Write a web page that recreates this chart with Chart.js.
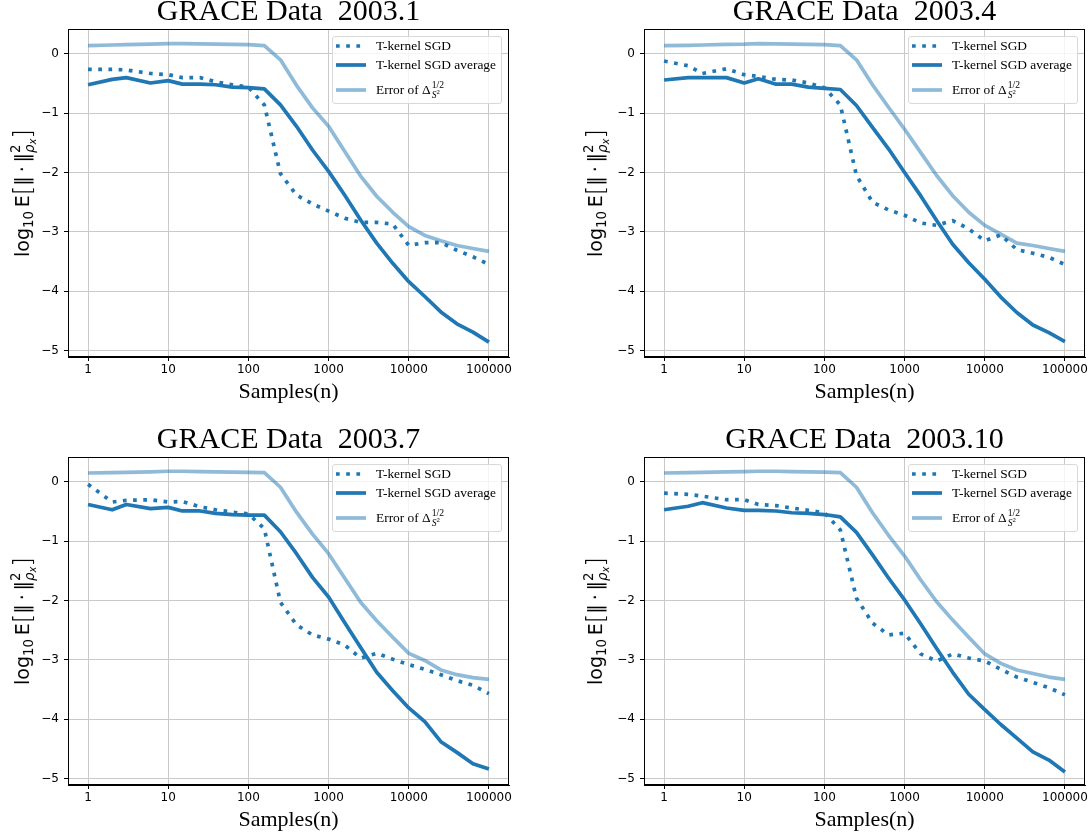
<!DOCTYPE html>
<html>
<head>
<meta charset="utf-8">
<script src="https://cdn.jsdelivr.net/npm/chart.js@4.4.1/dist/chart.umd.min.js"></script>
<style>
html, body { margin: 0; padding: 0; background: #fff; }
body { width: 1091px; height: 835px; position: relative; overflow: hidden; }
.panel { position: absolute; }
.panel canvas { position: absolute; left: 0; top: 0; }
.ylab {
    position: absolute; white-space: nowrap; color: #000;
    font-family: 'DejaVu Sans', sans-serif; font-size: 19px; line-height: 1;
    transform: translate(-50%, -50%) rotate(-90deg);
}
.ylab sub { font-size: 0.7em; vertical-align: -0.25em; }
.ylab .br { font-size: 1.3em; font-weight: 300; vertical-align: -0.08em; }
.ylab .ss { display: inline-block; vertical-align: middle; font-size: 0.7em; line-height: 1.05; text-align: left; }
.ylab .ss span { display: block; }
.legend {
    position: absolute; width: 168px; height: 66px;
    border: 1px solid #d9d9d9; border-radius: 3px; background: rgba(255,255,255,0.8);
    font-family: 'Liberation Serif', serif; font-size: 13.4px; color: #000;
}
.legend .row { position: absolute; left: 3px; height: 16px; display: flex; align-items: center; white-space: nowrap; }
.legend svg { display: block; margin-right: 10px; }
.legend .ss { display: inline-block; vertical-align: middle; font-size: 0.72em; line-height: 1; text-align: left; margin-left: 1px; }
.legend .ss span { display: block; }
</style>
</head>
<body>
<script>
// sample sizes n
const samples = [1, 2, 3, 6, 10, 15, 25, 39, 63, 100, 158, 251, 398, 630, 1000,
    1584, 2511, 3981, 6309, 10000, 15848, 25118, 39810, 63095, 100000];
const xTicks = [1, 10, 100, 1000, 10000, 100000];
const yTicks = [0, -1, -2, -3, -4, -5];

const titles = ['GRACE Data  2003.1', 'GRACE Data  2003.4', 'GRACE Data  2003.7', 'GRACE Data  2003.10'];

// 2003.1
const sgd1 = [-0.26, -0.26, -0.27, -0.33, -0.35, -0.40, -0.40, -0.47, -0.52, -0.56, -0.86, -2.02, -2.38,
    -2.53, -2.65, -2.77, -2.84, -2.84, -2.87, -3.23, -3.18, -3.18, -3.31, -3.42, -3.55];
const avg1 = [-0.52, -0.43, -0.40, -0.49, -0.45, -0.51, -0.51, -0.52, -0.56, -0.57, -0.59, -0.86, -1.22,
    -1.62, -1.98, -2.38, -2.80, -3.19, -3.53, -3.84, -4.09, -4.35, -4.55, -4.69, -4.86];
const err1 = [0.14, 0.15, 0.155, 0.165, 0.175, 0.175, 0.17, 0.165, 0.16, 0.155, 0.14, -0.10, -0.53,
    -0.91, -1.22, -1.64, -2.06, -2.40, -2.67, -2.91, -3.06, -3.15, -3.23, -3.28, -3.33];

// 2003.4
const sgd4 = [-0.12, -0.20, -0.33, -0.25, -0.35, -0.38, -0.43, -0.44, -0.49, -0.57, -0.86, -2.05, -2.50,
    -2.63, -2.72, -2.85, -2.89, -2.81, -2.95, -3.15, -3.05, -3.30, -3.36, -3.43, -3.55];
const avg4 = [-0.44, -0.40, -0.40, -0.40, -0.49, -0.42, -0.51, -0.51, -0.56, -0.58, -0.60, -0.87, -1.24,
    -1.60, -2.00, -2.39, -2.81, -3.21, -3.52, -3.80, -4.10, -4.36, -4.57, -4.70, -4.85];
const err4 = [0.14, 0.145, 0.15, 0.16, 0.165, 0.175, 0.17, 0.165, 0.16, 0.155, 0.14, -0.10, -0.52,
    -0.90, -1.27, -1.66, -2.05, -2.39, -2.67, -2.89, -3.04, -3.19, -3.23, -3.28, -3.33];

// 2003.7
const sgd7 = [-0.04, -0.34, -0.31, -0.30, -0.34, -0.33, -0.42, -0.47, -0.51, -0.54, -0.79, -2.03, -2.41,
    -2.58, -2.65, -2.75, -2.97, -2.89, -2.99, -3.08, -3.16, -3.25, -3.35, -3.43, -3.57];
const avg7 = [-0.38, -0.47, -0.38, -0.45, -0.43, -0.49, -0.49, -0.53, -0.55, -0.56, -0.56, -0.84, -1.21,
    -1.61, -1.94, -2.37, -2.79, -3.21, -3.52, -3.81, -4.04, -4.38, -4.56, -4.75, -4.84];
const err7 = [0.15, 0.155, 0.16, 0.17, 0.18, 0.18, 0.175, 0.17, 0.165, 0.16, 0.155, -0.09, -0.51,
    -0.88, -1.21, -1.62, -2.03, -2.34, -2.62, -2.89, -3.01, -3.17, -3.25, -3.30, -3.33];

// 2003.10
const sgd10 = [-0.19, -0.21, -0.24, -0.30, -0.30, -0.38, -0.40, -0.44, -0.48, -0.52, -0.81, -1.96, -2.38,
    -2.58, -2.55, -2.90, -3.02, -2.90, -2.97, -3.02, -3.16, -3.29, -3.38, -3.47, -3.59];
const avg10 = [-0.47, -0.41, -0.35, -0.44, -0.48, -0.48, -0.49, -0.52, -0.53, -0.55, -0.59, -0.85, -1.23,
    -1.62, -1.99, -2.39, -2.81, -3.21, -3.58, -3.84, -4.09, -4.32, -4.55, -4.69, -4.89];
const err10 = [0.15, 0.155, 0.16, 0.17, 0.175, 0.18, 0.18, 0.175, 0.17, 0.165, 0.155, -0.09, -0.52,
    -0.90, -1.25, -1.65, -2.02, -2.33, -2.62, -2.90, -3.06, -3.17, -3.23, -3.29, -3.33];

const BLUE = '#1f77b4';
const LIGHT = 'rgba(31,119,180,0.5)';
const GRID = '#c9c9c9';

// panel boxes on the page: left, top, width, height, y axis width, right pad, ylabel offset
const panels = [
    { left: 0,   top: 0,   w: 545, h: 407, axisW: 68, padR: 36, labOff: 44.5, sgd: sgd1,  avg: avg1,  err: err1 },
    { left: 545, top: 0,   w: 546, h: 407, axisW: 99, padR: 6,  labOff: 47.5, sgd: sgd4,  avg: avg4,  err: err4 },
    { left: 0,   top: 428, w: 545, h: 407, axisW: 68, padR: 36, labOff: 44.5, sgd: sgd7,  avg: avg7,  err: err7 },
    { left: 545, top: 428, w: 546, h: 407, axisW: 99, padR: 6,  labOff: 47.5, sgd: sgd10, avg: avg10, err: err10 }
];

const framePlugin = {
    id: 'frame',
    afterDraw(chart) {
        const { ctx, chartArea: a } = chart;
        ctx.save();
        ctx.strokeStyle = '#000';
        ctx.lineWidth = 1;
        ctx.strokeRect(Math.round(a.left) + 0.5, Math.round(a.top) + 0.5,
            Math.round(a.right - a.left) - 1, Math.round(a.bottom - a.top) - 1);
        ctx.restore();
    }
};

function pts(vals) {
    return samples.map((n, i) => ({ x: n, y: vals[i] }));
}

function fmtY(v) {
    return v < 0 ? '\u2212' + Math.abs(v) : String(v);
}

function legendHtml() {
    const dot = '<svg width="30" height="6"><line x1="0" y1="3" x2="30" y2="3" stroke="' + BLUE +
        '" stroke-width="3.7" stroke-dasharray="3.7 6.5"/></svg>';
    const solid = '<svg width="30" height="6"><line x1="0" y1="3" x2="30" y2="3" stroke="' + BLUE +
        '" stroke-width="3.7"/></svg>';
    const light = '<svg width="30" height="6"><line x1="0" y1="3" x2="30" y2="3" stroke="' + LIGHT +
        '" stroke-width="3.7"/></svg>';
    return '<div class="row" style="top:1px">' + dot + 'T-kernel SGD</div>' +
        '<div class="row" style="top:20px">' + solid + 'T-kernel SGD average</div>' +
        '<div class="row" style="top:45px">' + light + 'Error of&nbsp;Δ<span class="ss"><span>1/2</span><span><i>S</i><sup style="font-size:0.7em">2</sup></span></span></div>';
}

function ylabHtml() {
    return 'log<sub>10</sub>&thinsp;E<span class="br">[</span>‖&thinsp;·&thinsp;‖' +
        '<span class="ss"><span>2</span><span><i>ρ</i><sub style="font-size:0.75em"><i>x</i></sub></span></span>' +
        '<span class="br">]</span>';
}

panels.forEach((p, i) => {
    const box = document.createElement('div');
    box.className = 'panel';
    box.style.left = p.left + 'px';
    box.style.top = p.top + 'px';
    box.style.width = p.w + 'px';
    box.style.height = p.h + 'px';
    document.body.appendChild(box);

    const canvas = document.createElement('canvas');
    canvas.width = p.w;
    canvas.height = p.h;
    box.appendChild(canvas);

    const chart = new Chart(canvas, {
        type: 'line',
        data: {
            datasets: [
                { label: 'T-kernel SGD', data: pts(p.sgd), borderColor: BLUE, borderWidth: 3.7,
                  borderDash: [3.7, 6.5], borderCapStyle: 'butt', order: 3 },
                { label: 'T-kernel SGD average', data: pts(p.avg), borderColor: BLUE, borderWidth: 3.7, order: 2 },
                { label: 'Error of Δ', data: pts(p.err), borderColor: LIGHT, borderWidth: 3.7, order: 1 }
            ]
        },
        options: {
            responsive: false,
            animation: false,
            events: [],
            elements: {
                point: { radius: 0 },
                line: { tension: 0, fill: false, borderJoinStyle: 'round' }
            },
            layout: { padding: { left: 0, right: p.padR, top: 0, bottom: 0 } },
            plugins: {
                legend: { display: false },
                tooltip: { enabled: false },
                title: {
                    display: true,
                    fullSize: false,
                    text: titles[i],
                    color: '#000',
                    font: { family: 'Liberation Serif', size: 30, weight: 'normal', lineHeight: 0.8 },
                    padding: { top: 0, bottom: 5 }
                }
            },
            scales: {
                x: {
                    type: 'logarithmic',
                    min: Math.pow(10, -0.25),
                    max: Math.pow(10, 5.25),
                    afterBuildTicks: s => { s.ticks = xTicks.map(v => ({ value: v })); },
                    afterFit: s => { s.height = 50; },
                    ticks: {
                        autoSkip: false, maxRotation: 0, minRotation: 0, padding: 2, color: '#000',
                        font: { family: 'DejaVu Sans', size: 12 },
                        callback: v => String(v)
                    },
                    grid: { color: GRID, lineWidth: 1, tickLength: 4, tickColor: '#000', tickWidth: 1 },
                    border: { display: true, color: '#000', width: 1 },
                    title: {
                        display: true, text: 'Samples(n)', color: '#000',
                        font: { family: 'Liberation Serif', size: 22, lineHeight: 1 },
                        padding: { top: 0, bottom: 4 }
                    }
                },
                y: {
                    type: 'linear',
                    min: -5.11,
                    max: 0.42,
                    afterBuildTicks: s => { s.ticks = yTicks.map(v => ({ value: v })); },
                    afterFit: s => { s.width = p.axisW; },
                    ticks: {
                        padding: 5, color: '#000',
                        font: { family: 'DejaVu Sans', size: 12 },
                        callback: v => fmtY(v)
                    },
                    grid: { color: GRID, lineWidth: 1, tickLength: 4, tickColor: '#000', tickWidth: 1 },
                    border: { display: true, color: '#000', width: 1 }
                }
            }
        },
        plugins: [framePlugin]
    });

    const a = chart.chartArea;

    const lab = document.createElement('div');
    lab.className = 'ylab';
    lab.innerHTML = ylabHtml();
    lab.style.left = (a.left - p.labOff) + 'px';
    lab.style.top = ((a.top + a.bottom) / 2) + 'px';
    box.appendChild(lab);

    const leg = document.createElement('div');
    leg.className = 'legend';
    leg.innerHTML = legendHtml();
    leg.style.left = (a.right - 7 - 170) + 'px';
    leg.style.top = (a.top + 7) + 'px';
    box.appendChild(leg);
});
</script>
</body>
</html>
